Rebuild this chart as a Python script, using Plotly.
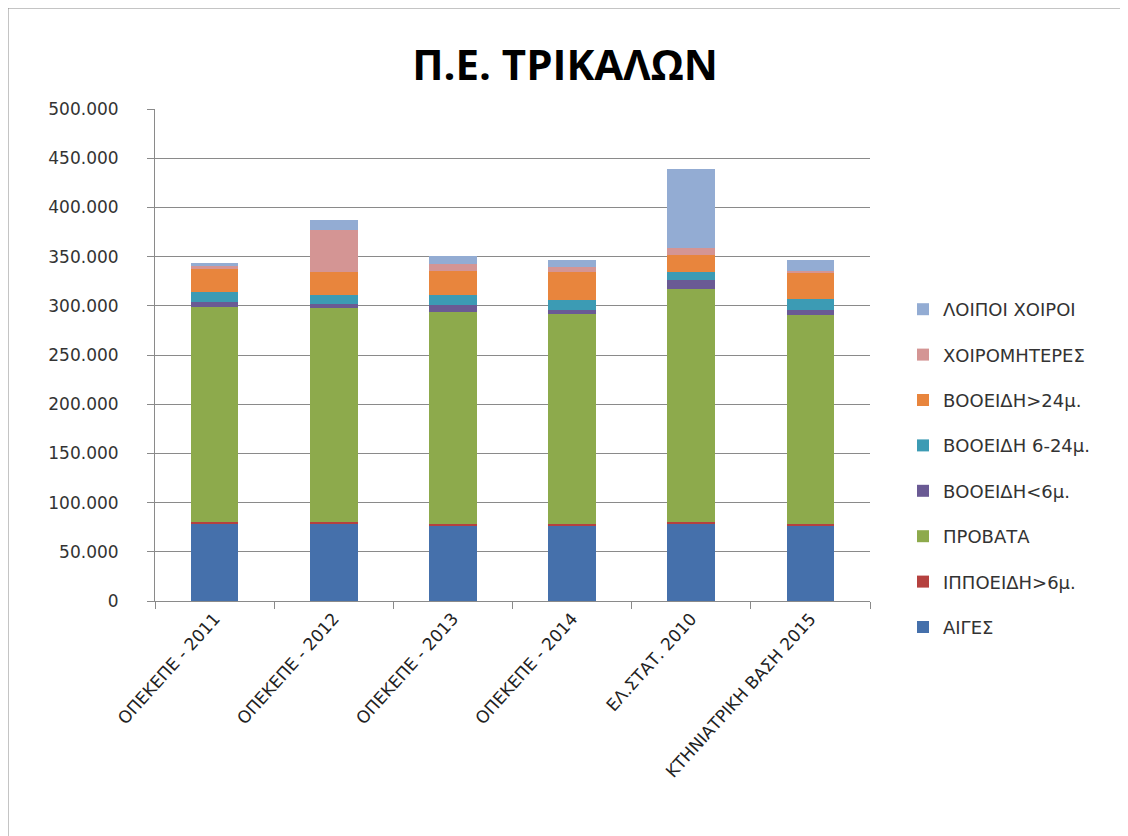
import plotly.graph_objects as go

categories = ["ΟΠΕΚΕΠΕ - 2011", "ΟΠΕΚΕΠΕ - 2012", "ΟΠΕΚΕΠΕ - 2013",
              "ΟΠΕΚΕΠΕ - 2014", "ΕΛ.ΣΤΑΤ. 2010", "ΚΤΗΝΙΑΤΡΙΚΗ ΒΑΣΗ 2015"]

aiges = [79000, 79000, 76400, 76400, 79000, 76400]
ippoeidi = [1500, 1500, 1500, 1500, 1500, 1500]
provata = [218000, 217300, 215800, 213500, 237000, 212500]
vooeidi_lt6 = [5400, 4400, 6800, 4700, 8400, 5700]
vooeidi_6_24 = [10100, 8500, 10200, 9500, 8400, 11200]
vooeidi_gt24 = [24000, 23600, 24800, 28700, 17000, 27000]
xoiromiteres = [2000, 42300, 7300, 5100, 7100, 1500]
loipoi_xoiroi = [3100, 10200, 7500, 6800, 80900, 11100]

series = [
    ("ΑΙΓΕΣ", aiges, "#4570AB"),
    ("ΙΠΠΟΕΙΔΗ>6μ.", ippoeidi, "#B5413F"),
    ("ΠΡΟΒΑΤΑ", provata, "#8DAA4C"),
    ("ΒΟΟΕΙΔΗ<6μ.", vooeidi_lt6, "#6A5A94"),
    ("ΒΟΟΕΙΔΗ 6-24μ.", vooeidi_6_24, "#3C9BB4"),
    ("ΒΟΟΕΙΔΗ>24μ.", vooeidi_gt24, "#E8853D"),
    ("ΧΟΙΡΟΜΗΤΕΡΕΣ", xoiromiteres, "#D49594"),
    ("ΛΟΙΠΟΙ ΧΟΙΡΟΙ", loipoi_xoiroi, "#93ACD3"),
]

y_ticks = [0, 50000, 100000, 150000, 200000, 250000, 300000, 350000, 400000, 450000, 500000]

fig = go.Figure()
n = len(series)
for i, (name, vals, color) in enumerate(series):
    fig.add_trace(go.Bar(
        x=categories, y=vals, name=name, marker_color=color,
        marker_line_width=0, legendgroup=str(i), legendrank=n - i,
    ))

font_family = "DejaVu Sans"
L, T, PW, PH = 147, 101, 715, 492
fig.update_layout(
    width=1128, height=836,
    barmode="stack", bargap=0.6,
    separators=",.",
    plot_bgcolor="white", paper_bgcolor="white",
    margin=dict(l=L, r=1128 - L - PW, t=T, b=836 - T - PH, autoexpand=False),
    title=dict(text="<b>Π.Ε. ΤΡΙΚΑΛΩΝ</b>", x=(565 - 8) / 1128, xref="container", xanchor="center",
               y=1 - 57 / 836, yref="container", yanchor="middle",
               font=dict(family="Open Sans", size=42, color="black")),
    legend=dict(traceorder="grouped", tracegroupgap=19, x=(895 - L) / PW, xanchor="left",
                y=(T + PH - 283) / PH, yanchor="top",
                font=dict(family=font_family, size=18, color="#333333"),
                bgcolor="rgba(0,0,0,0)", itemwidth=30),
    xaxis=dict(type="category", tickson="boundaries", ticks="outside", ticklen=7,
               tickcolor="#8a8a8a", showline=True, linecolor="#8a8a8a", linewidth=1,
               tickangle=-48, tickfont=dict(family=font_family, size=17, color="#222222"),
               showgrid=False),
    yaxis=dict(range=[0, 500000], tickvals=y_ticks, tickformat=",d", ticks="outside",
               ticklen=7, tickcolor="#8a8a8a", showline=True, linecolor="#8a8a8a",
               showgrid=True, gridcolor="#8a8a8a", gridwidth=1, zeroline=False,
               ticklabelstandoff=25,
               tickfont=dict(family=font_family, size=17, color="#333333")),
    shapes=[dict(type="rect", xref="paper", yref="paper",
                 x0=(0 - L) / PW, x1=(1200 - L) / PW,
                 y0=(T + PH - 900) / PH, y1=1 + T / PH,
                 line=dict(color="#8a8a8a", width=1), fillcolor="rgba(0,0,0,0)", layer="below")],
)

fig.write_html("out.html")
